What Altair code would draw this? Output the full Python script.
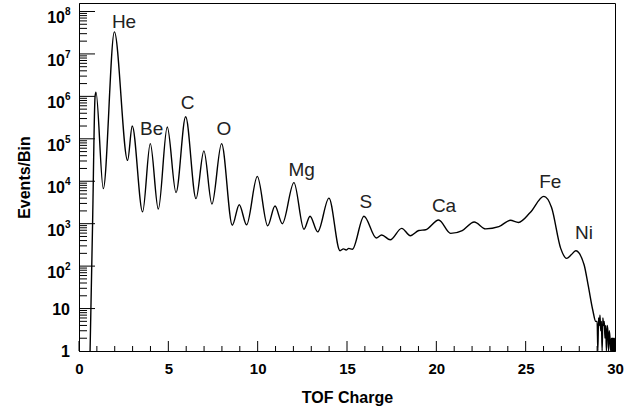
import altair as alt
import pandas as pd

# ---- spectrum (TOF charge, events per bin) ----
tof_charge = [
    0.62, 0.76, 0.90, 0.95, 1.36, 1.98, 2.72, 2.98, 3.56, 3.99, 4.44, 4.94, 5.43,
    5.97, 6.55, 6.99, 7.44, 7.98, 8.58, 8.97, 9.38, 9.98, 10.56, 10.97, 11.38,
    12.03, 12.59, 12.93, 13.36, 13.99, 14.61, 14.80, 14.95, 15.10, 15.30, 15.95,
    16.64, 16.94, 17.42, 18.06, 18.55, 19.02, 19.40, 20.13, 20.80, 21.45, 22.12,
    22.76, 23.50, 24.14, 24.60, 25.24, 26.02, 26.45, 26.96, 27.29, 27.55, 27.80,
    28.27, 28.50, 28.76, 28.92,
    29.00, 29.04, 29.08, 29.12, 29.16, 29.20, 29.24, 29.28, 29.32, 29.36, 29.40,
    29.44, 29.48, 29.52, 29.56, 29.60, 29.64, 29.68, 29.72, 29.76,
    29.80, 29.82, 29.84, 29.86, 29.88, 29.90, 29.92, 29.94, 29.96, 29.98, 30.00,
]
events = [
    1, 1000, 1.0e6, 1.25e6, 6.7e3, 3.3e7, 3.1e4, 2.0e5, 1.9e3, 7.7e4, 2.2e3, 1.9e5, 5.4e3,
    3.3e5, 3.9e3, 5.2e4, 2.9e3, 7.7e4, 920, 2.8e3, 940, 1.3e4, 890, 2.6e3, 1.0e3,
    9.3e3, 740, 1.5e3, 640, 4.0e3, 230, 255, 240, 262, 250, 1.5e3,
    460, 540, 418, 775, 520, 690, 720, 1.22e3, 590, 690, 1.1e3,
    755, 850, 1.2e3, 1.07e3, 1.8e3, 4.4e3, 2.4e3, 262, 152, 185, 230,
    108, 35, 9, 5,
    5, 1, 6, 4, 7, 3, 5, 1, 6, 4, 5,
    2, 4, 1, 4, 3, 1, 3, 2, 1,
    2, 1, 2, 1, 2, 1, 2, 1, 2, 1, 2,
]

# ---- element labels ----
elem_names = ["He", "Be", "C", "O", "Mg", "S", "Ca", "Fe", "Ni"]
elem_x = [2.52, 4.07, 6.08, 8.11, 12.46, 16.05, 20.43, 26.38, 28.26]
elem_y = [5.6e7, 1.66e5, 7.1e5, 1.66e5, 1.8e4, 3.2e3, 2.6e3, 9.5e3, 600]

# ---- axis ticks ----
x_major = [0, 5, 10, 15, 20, 25, 30]
x_minor = [v for v in range(1, 30) if v % 5 != 0]
y_major = [10, 100, 1e3, 1e4, 1e5, 1e6, 1e7, 1e8]
y_minor = [m * 10 ** k for k in range(0, 8) for m in range(2, 10)]
y_plain_vals = [1, 10]
y_plain_text = ["1", "10"]
y_pow_vals = [1e2, 1e3, 1e4, 1e5, 1e6, 1e7, 1e8]
y_pow_exp = ["2", "3", "4", "5", "6", "7", "8"]

FONT = "Liberation Sans"

xs = alt.Scale(domain=[0, 30], nice=False, zero=False)
ys = alt.Scale(type="log", domain=[1, 10 ** 8.2], nice=False, clamp=True)

x_axis = alt.Axis(
    values=x_major, format="d", grid=False, ticks=False, tickSize=0,
    labelPadding=10, labelFont=FONT, labelFontSize=15, labelFontWeight="bold",
    labelColor="black", labelFlush=False, domainColor="black",
    title="TOF Charge", titleFont=FONT, titleFontSize=16, titleFontWeight="bold",
    titleColor="black", titleX=268, titleY=46, titleBaseline="middle",
    titleAlign="center")
y_axis = alt.Axis(
    labels=False, ticks=False, tickSize=0, grid=False, domainColor="black",
    title="Events/Bin", titleFont=FONT, titleFontSize=16, titleFontWeight="bold",
    titleColor="black", titleAngle=270, titleX=-55, titleY=174,
    titleBaseline="middle", titleAlign="center")


def X(field):
    return alt.X(field, type="quantitative", scale=xs, axis=x_axis)


def Y(field):
    return alt.Y(field, type="quantitative", scale=ys, axis=y_axis)


spec_df = pd.DataFrame({"x": tof_charge, "y": events})

line = alt.Chart(spec_df).mark_line(
    color="black", strokeWidth=1.4, interpolate="monotone", clip=True
).encode(x=X("x"), y=Y("y"))


def yrule(vals, length):
    return alt.Chart(pd.DataFrame({"y": vals})).mark_rule(
        color="black", strokeWidth=1).encode(
        y=Y("y"), x=alt.value(0), x2=alt.value(length))


def xrule(vals, length):
    return alt.Chart(pd.DataFrame({"x": vals})).mark_rule(
        color="black", strokeWidth=1).encode(
        x=X("x"), y=alt.value(348), y2=alt.value(348 - length))


y_major_r = yrule(y_major, 16)
y_minor_r = yrule(y_minor, 8)
x_major_r = xrule(x_major, 10)
x_minor_r = xrule(x_minor, 5)

plain_lbl = alt.Chart(pd.DataFrame({"y": y_plain_vals, "t": y_plain_text})).mark_text(
    font=FONT, fontSize=16, fontWeight="bold", color="black",
    align="right", baseline="middle", dy=1).encode(
    y=Y("y"), x=alt.value(-9), text="t:N")

pow_df = pd.DataFrame({"y": y_pow_vals, "e": y_pow_exp, "b": ["10"] * len(y_pow_vals)})
pow_base = alt.Chart(pow_df).mark_text(
    font=FONT, fontSize=16, fontWeight="bold", color="black",
    align="right", baseline="middle", dy=7).encode(
    y=Y("y"), x=alt.value(-14), text="b:N")
pow_exp = alt.Chart(pow_df).mark_text(
    font=FONT, fontSize=10, fontWeight="bold", color="black",
    align="left", baseline="middle", dy=1).encode(
    y=Y("y"), x=alt.value(-14), text="e:N")

elem = alt.Chart(pd.DataFrame({"x": elem_x, "y": elem_y, "n": elem_names})).mark_text(
    font=FONT, fontSize=19, color="#222222", align="center", baseline="middle").encode(
    x=X("x"), y=Y("y"), text="n:N")

chart = alt.layer(
    line, y_major_r, y_minor_r, x_major_r, x_minor_r, plain_lbl, pow_base, pow_exp, elem
).properties(
    width=536, height=348,
    autosize=alt.AutoSizeParams(type="none"),
    padding={"left": 79, "top": 3, "right": 24, "bottom": 63},
    background="white",
).configure_view(stroke="black", strokeWidth=1)

chart.save("out.html", embed_options={"renderer": "svg", "actions": False})
